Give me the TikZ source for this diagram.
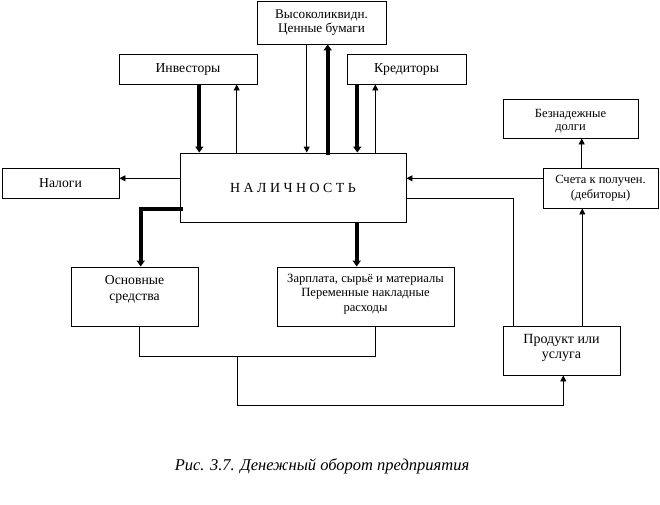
\documentclass[tikz,border=0pt]{standalone}
\usepackage{fontspec}
\setmainfont{Liberation Serif}
\usetikzlibrary{arrows.meta,calc}
\tikzset{
  box/.style={draw, line width=0.9pt, inner sep=0pt, align=center, font=\fontsize{13.7}{15.5}\selectfont},
  thn/.style={line width=0.9pt, -{Triangle[length=6pt,width=6pt]}},
  ln/.style={line width=0.9pt},
  thk/.style={line width=3.8pt, -{Triangle[length=6pt,width=8pt]}},
}
\begin{document}
\begin{tikzpicture}[x=1pt,y=-1pt]
\useasboundingbox (0,0) rectangle (660,504);
% boxes
\node[box, minimum width=129pt, minimum height=43pt, font=\fontsize{13.2}{14.8}\selectfont] (hl) at (321.5,22.5) {Высоколиквидн.\\Ценные бумаги};
\node[box, minimum width=138pt, minimum height=30pt] (inv) at (188,69) {Инвесторы};
\node[box, minimum width=119pt, minimum height=30pt] (kred) at (406.5,69) {Кредиторы};
\node[box, minimum width=226pt, minimum height=69pt, font=\fontsize{13.9}{15}\selectfont] (cash) at (293,187.5) {Н А Л И Ч Н О С Т Ь};
\node[box, minimum width=117pt, minimum height=30pt] (nal) at (60.5,183) {Налоги};
\node[box, minimum width=127pt, minimum height=59pt,
  label={[align=center, font=\fontsize{13.7}{15.7}\selectfont, yshift=7pt]center:Основные\\средства}] (os) at (134.5,296.5) {};
\node[box, minimum width=177pt, minimum height=59pt,
  label={[align=center, font=\fontsize{12.6}{14.2}\selectfont, yshift=2.5pt]center:Зарплата, сырьё и материалы\\Переменные накладные\\расходы}] (zp) at (365.5,296.5) {};
\node[box, minimum width=117pt, minimum height=49pt,
  label={[align=center, font=\fontsize{14}{15.7}\selectfont, yshift=2.5pt]center:Продукт или\\услуга}] (prod) at (561.5,350.5) {};
\node[box, minimum width=115pt, minimum height=40pt, font=\fontsize{12.5}{15.3}\selectfont] (sch) at (600.5,188) {Счета к получен.\\(дебиторы)};
\node[box, minimum width=135pt, minimum height=39pt,
  label={[align=center, font=\fontsize{12.5}{13}\selectfont, yshift=-2.5pt]center:Безнадежные\\долги}] (bez) at (570.5,118.5) {};
% caption
\node[font=\fontsize{16.5}{18}\itshape] (cap) at (322,466.5) {Рис. 3.7. Денежный оборот предприятия};
% anchor coordinates
\coordinate (invA) at ([xshift=11.3pt]inv.south);
\coordinate (invB) at ([xshift=48.7pt]inv.south);
\coordinate (hlA) at ([xshift=-14.8pt]hl.south);
\coordinate (hlB) at ([xshift=6.2pt]hl.south);
\coordinate (krA) at ([xshift=-49.2pt]kred.south);
\coordinate (krB) at ([xshift=-31.2pt]kred.south);
\coordinate (cashW1) at ([yshift=9.2pt]cash.west);
\coordinate (cashW2) at ([yshift=-21.8pt]cash.west);
\coordinate (cashS) at ([xshift=63.7pt]cash.south);
\coordinate (cashE2) at ([yshift=-10.8pt]cash.east);
\coordinate (schW) at ([yshift=9.7pt]sch.west);
\coordinate (schN) at ([xshift=-18.8pt]sch.north);
\coordinate (osN) at ([xshift=6.2pt]os.north);
\coordinate (osS) at ([xshift=4.8pt]os.south);
\coordinate (zpS) at ([xshift=10.2pt]zp.south);
\coordinate (prodN1) at ([xshift=-48.2pt]prod.north);
\coordinate (prodN2) at ([xshift=20.8pt]prod.north);
\coordinate (prodS) at ([xshift=1.8pt]prod.south);
\coordinate (j) at (237.3,356);
\coordinate (k) at (237.3,405);
% connectors
\draw[thk] (invA) -- (invA |- cash.north);
\draw[thn] (invB |- cash.north) -- (invB);
\draw[thn] (hlA) -- (hlA |- cash.north);
\draw[thk, shorten <=-2pt] (hlB |- cash.north) -- (hlB);
\draw[thk] (krA) -- (krA |- cash.north);
\draw[thn] (krB |- cash.north) -- (krB);
\draw[thn] (cashW1) -- (cashW1 -| nal.east);
\draw[thk, shorten <=-3pt] (cashW2) -| (osN);
\draw[thk] (cashS) -- (cashS |- zp.north);
\draw[thn] (schW) -- (schW -| cash.east);
\draw[ln] (cashE2) -| (prodN1);
\draw[thn] (prodN2) -- (prodN2 |- sch.south);
\draw[thn] (schN) -- (schN |- bez.south);
\draw[ln] (osS) |- (zpS |- j) -- (zpS);
\draw[thn] (j) -- (k) -| (prodS);
\end{tikzpicture}
\end{document}
